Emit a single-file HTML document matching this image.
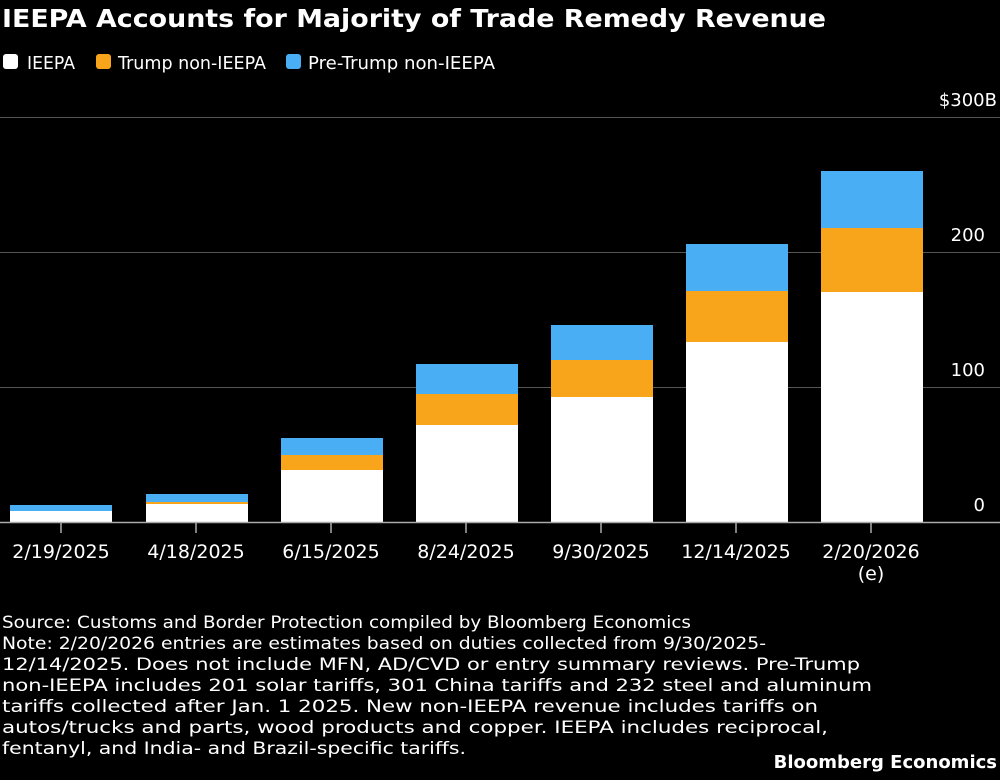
<!DOCTYPE html>
<html><head><meta charset="utf-8"><style>
body{margin:0;background:#000;width:1000px;height:776px;overflow:hidden;font-family:"DejaVu Sans","Liberation Sans",sans-serif;color:#fff}
</style></head><body>
<svg width="1000" height="776" xmlns="http://www.w3.org/2000/svg" font-family="DejaVu Sans, Liberation Sans, sans-serif">
<rect width="1000" height="776" fill="#000"/>
<text x="2" y="27" font-size="25" font-weight="bold" fill="#fff" textLength="824" lengthAdjust="spacingAndGlyphs">IEEPA Accounts for Majority of Trade Remedy Revenue</text>
<rect x="3" y="54" width="15" height="15" rx="3" fill="#fff"/>
<text x="27" y="69" font-size="18" fill="#fff" textLength="48" lengthAdjust="spacingAndGlyphs">IEEPA</text>
<rect x="96" y="54" width="15" height="15" rx="3" fill="#f9a51b"/>
<text x="118" y="69" font-size="18" fill="#fff" textLength="148" lengthAdjust="spacingAndGlyphs">Trump non-IEEPA</text>
<rect x="286" y="54" width="15" height="15" rx="3" fill="#4aaef5"/>
<text x="308" y="69" font-size="18" fill="#fff" textLength="187" lengthAdjust="spacingAndGlyphs">Pre-Trump non-IEEPA</text>
<g stroke="#555" stroke-width="1">
<line x1="0" y1="117.5" x2="1000" y2="117.5"/>
<line x1="0" y1="252.5" x2="1000" y2="252.5"/>
<line x1="0" y1="387.5" x2="1000" y2="387.5"/>
</g>
<g font-size="18" fill="#fff" text-anchor="end">
<text x="997" y="106">$300B</text>
<text x="985" y="241">200</text>
<text x="985" y="376">100</text>
<text x="985" y="511">0</text>
</g>
<g>
<rect x="10" y="505" width="102" height="17" fill="#4aaef5"/><rect x="10" y="511" width="102" height="11" fill="#fff"/>
<rect x="146" y="494" width="102" height="28" fill="#4aaef5"/><rect x="146" y="502" width="102" height="20" fill="#f9a51b"/><rect x="146" y="504" width="102" height="18" fill="#fff"/>
<rect x="281" y="438" width="102" height="84" fill="#4aaef5"/><rect x="281" y="455" width="102" height="67" fill="#f9a51b"/><rect x="281" y="470" width="102" height="52" fill="#fff"/>
<rect x="416" y="364" width="102" height="158" fill="#4aaef5"/><rect x="416" y="394" width="102" height="128" fill="#f9a51b"/><rect x="416" y="425" width="102" height="97" fill="#fff"/>
<rect x="551" y="325" width="102" height="197" fill="#4aaef5"/><rect x="551" y="360" width="102" height="162" fill="#f9a51b"/><rect x="551" y="397" width="102" height="125" fill="#fff"/>
<rect x="686" y="244" width="102" height="278" fill="#4aaef5"/><rect x="686" y="291" width="102" height="231" fill="#f9a51b"/><rect x="686" y="342" width="102" height="180" fill="#fff"/>
<rect x="821" y="171" width="102" height="351" fill="#4aaef5"/><rect x="821" y="228" width="102" height="294" fill="#f9a51b"/><rect x="821" y="292" width="102" height="230" fill="#fff"/>
</g>
<line x1="0" y1="522.5" x2="1000" y2="522.5" stroke="#aaa" stroke-width="1.5"/>
<g stroke="#aaa" stroke-width="1.5">
<line x1="61" y1="522" x2="61" y2="533"/><line x1="196" y1="522" x2="196" y2="533"/><line x1="331" y1="522" x2="331" y2="533"/><line x1="466" y1="522" x2="466" y2="533"/><line x1="601" y1="522" x2="601" y2="533"/><line x1="736" y1="522" x2="736" y2="533"/><line x1="871" y1="522" x2="871" y2="533"/>
</g>
<g font-size="19" fill="#fff" text-anchor="middle">
<text x="61" y="558">2/19/2025</text><text x="196" y="558">4/18/2025</text><text x="331" y="558">6/15/2025</text><text x="466" y="558">8/24/2025</text><text x="601" y="558">9/30/2025</text><text x="736" y="558">12/14/2025</text><text x="871" y="558">2/20/2026</text><text x="871" y="580">(e)</text>
</g>
<g font-size="17" fill="#fff" lengthAdjust="spacingAndGlyphs">
<text x="2" y="628" textLength="689" lengthAdjust="spacingAndGlyphs">Source: Customs and Border Protection compiled by Bloomberg Economics</text>
<text x="2" y="649" textLength="764" lengthAdjust="spacingAndGlyphs">Note: 2/20/2026 entries are estimates based on duties collected from 9/30/2025-</text>
<text x="2" y="670" textLength="858" lengthAdjust="spacingAndGlyphs">12/14/2025. Does not include MFN, AD/CVD or entry summary reviews. Pre-Trump</text>
<text x="2" y="691" textLength="870" lengthAdjust="spacingAndGlyphs">non-IEEPA includes 201 solar tariffs, 301 China tariffs and 232 steel and aluminum</text>
<text x="2" y="712" textLength="816" lengthAdjust="spacingAndGlyphs">tariffs collected after Jan. 1 2025. New non-IEEPA revenue includes tariffs on</text>
<text x="2" y="733" textLength="826" lengthAdjust="spacingAndGlyphs">autos/trucks and parts, wood products and copper. IEEPA includes reciprocal,</text>
<text x="2" y="754" textLength="464" lengthAdjust="spacingAndGlyphs">fentanyl, and India- and Brazil-specific tariffs.</text>
</g>
<text x="997" y="768" font-size="18" font-weight="bold" fill="#fff" text-anchor="end">Bloomberg Economics</text>
</svg>
</body></html>
